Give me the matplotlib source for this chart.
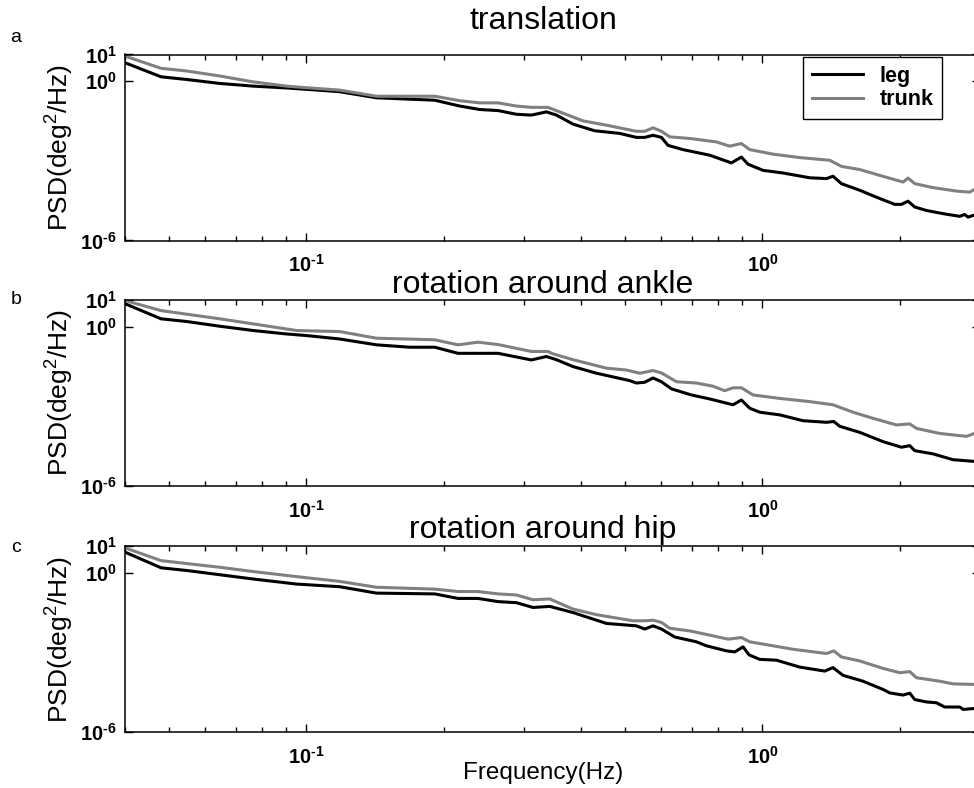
import numpy as np
import matplotlib
matplotlib.use('Agg')
import matplotlib.pyplot as plt
from matplotlib.ticker import LogLocator, NullFormatter, NullLocator

plt.rcParams['font.family'] = 'Liberation Sans'
plt.rcParams['mathtext.fontset'] = 'custom'
plt.rcParams['mathtext.rm'] = 'Liberation Sans:bold'
plt.rcParams['mathtext.bf'] = 'Liberation Sans:bold'
plt.rcParams['mathtext.it'] = 'Liberation Sans:italic'

# values, PSD given as log10
titles = ['translation', 'rotation around ankle', 'rotation around hip']
letters = ['a', 'b', 'c']

f_leg_a = [0.040, 0.048, 0.0546, 0.0646, 0.0764, 0.0904, 0.100, 0.1183, 0.1424, 0.1911,
           0.2169, 0.2399, 0.2632, 0.2887, 0.3114, 0.3359, 0.3534, 0.3842, 0.4286, 0.4865,
           0.5292, 0.5518, 0.5755, 0.6005, 0.6209, 0.6696, 0.7663, 0.8550, 0.8992, 0.9299,
           1.003, 1.110, 1.270, 1.382, 1.428, 1.490, 1.635, 1.778, 1.950, 2.018,
           2.086, 2.158, 2.289, 2.489, 2.708, 2.777, 2.824, 2.896]
leg_a = [0.69, 0.16, 0.06, -0.09, -0.19, -0.26, -0.31, -0.40, -0.63, -0.72,
         -0.94, -1.07, -1.11, -1.25, -1.28, -1.16, -1.28, -1.62, -1.87, -1.97,
         -2.12, -2.12, -2.04, -2.12, -2.42, -2.58, -2.79, -3.08, -2.86, -3.13,
         -3.36, -3.46, -3.64, -3.67, -3.58, -3.86, -4.11, -4.37, -4.64, -4.64,
         -4.52, -4.74, -4.87, -4.99, -5.09, -5.02, -5.12, -5.06]

f_trunk_a = [0.040, 0.048, 0.0546, 0.0646, 0.0764, 0.0904, 0.100, 0.1183, 0.1424, 0.1911,
             0.2169, 0.2399, 0.2632, 0.2887, 0.3114, 0.3386, 0.3593, 0.4043, 0.4549, 0.5292,
             0.5518, 0.5755, 0.6005, 0.6262, 0.6928, 0.7926, 0.8477, 0.8992, 0.9379, 1.055,
             1.207, 1.405, 1.490, 1.635, 1.808, 2.034, 2.086, 2.158, 2.366, 2.663,
             2.848, 2.896]
trunk_a = [0.94, 0.48, 0.38, 0.19, -0.03, -0.19, -0.25, -0.34, -0.57, -0.57,
           -0.74, -0.82, -0.82, -0.94, -0.99, -0.99, -1.16, -1.50, -1.66, -1.89,
           -1.89, -1.76, -1.89, -2.10, -2.16, -2.29, -2.45, -2.35, -2.58, -2.75,
           -2.88, -2.98, -3.21, -3.33, -3.55, -3.80, -3.65, -3.86, -4.01, -4.14,
           -4.18, -4.11]

f_leg_b = [0.040, 0.048, 0.0546, 0.0646, 0.0764, 0.0904, 0.100, 0.1183, 0.1424, 0.1685,
           0.1911, 0.2150, 0.2632, 0.3114, 0.3359, 0.3534, 0.3842, 0.4325, 0.5117, 0.5292,
           0.5518, 0.5755, 0.6005, 0.6316, 0.6987, 0.7663, 0.8620, 0.8992, 0.9379, 0.9865,
           1.091, 1.227, 1.382, 1.434, 1.477, 1.635, 1.839, 2.018, 2.104, 2.158,
           2.366, 2.618, 2.896]
leg_b = [0.86, 0.29, 0.19, 0.01, -0.15, -0.28, -0.34, -0.47, -0.69, -0.78,
         -0.78, -1.01, -1.01, -1.26, -1.13, -1.25, -1.51, -1.76, -2.04, -2.13,
         -2.10, -1.94, -2.08, -2.35, -2.58, -2.73, -2.95, -2.77, -3.08, -3.23,
         -3.33, -3.55, -3.61, -3.58, -3.76, -3.99, -4.34, -4.55, -4.49, -4.68,
         -4.80, -5.02, -5.08]

f_trunk_b = [0.040, 0.048, 0.0646, 0.0764, 0.0951, 0.1183, 0.1424, 0.1911, 0.2150, 0.2377,
             0.2632, 0.3114, 0.3386, 0.3473, 0.3842, 0.4549, 0.5031, 0.5381, 0.5755, 0.6005,
             0.6477, 0.7166, 0.7792, 0.8265, 0.8620, 0.8992, 0.9537, 1.091, 1.270, 1.428,
             1.580, 1.748, 1.967, 2.104, 2.177, 2.448, 2.802, 2.896]
trunk_b = [0.98, 0.60, 0.29, 0.10, -0.15, -0.19, -0.44, -0.50, -0.69, -0.59,
           -0.68, -0.94, -0.94, -1.03, -1.25, -1.57, -1.64, -1.76, -1.66, -1.75,
           -2.08, -2.13, -2.25, -2.42, -2.31, -2.31, -2.58, -2.71, -2.83, -2.95,
           -3.23, -3.46, -3.71, -3.67, -3.84, -4.03, -4.14, -4.05]

f_leg_c = [0.040, 0.048, 0.0546, 0.0646, 0.0764, 0.0951, 0.1183, 0.1424, 0.1911, 0.2150,
           0.2377, 0.2632, 0.2887, 0.3139, 0.3416, 0.3842, 0.4549, 0.5292, 0.5518, 0.5755,
           0.6005, 0.6422, 0.7166, 0.7536, 0.8337, 0.8695, 0.9067, 0.9346, 0.9865, 1.073,
           1.207, 1.370, 1.428, 1.502, 1.662, 1.839, 1.902, 2.034, 2.104, 2.158,
           2.289, 2.407, 2.510, 2.708, 2.754, 2.896]
leg_c = [0.77, 0.18, 0.08, -0.08, -0.24, -0.43, -0.53, -0.77, -0.80, -0.97,
         -0.97, -1.09, -1.13, -1.31, -1.27, -1.50, -1.91, -2.00, -2.12, -2.00,
         -2.12, -2.42, -2.60, -2.75, -2.94, -2.98, -2.79, -3.09, -3.26, -3.29,
         -3.55, -3.70, -3.57, -3.86, -4.08, -4.39, -4.52, -4.60, -4.53, -4.77,
         -4.86, -4.89, -5.05, -5.05, -5.14, -5.11]

f_trunk_c = [0.040, 0.048, 0.0646, 0.0764, 0.0951, 0.1183, 0.1424, 0.1911, 0.2150, 0.2377,
             0.2632, 0.2887, 0.3139, 0.3416, 0.3842, 0.4325, 0.5202, 0.5518, 0.5755, 0.6005,
             0.6262, 0.6928, 0.7663, 0.8404, 0.8992, 0.9379, 1.055, 1.167, 1.382, 1.434,
             1.490, 1.635, 1.839, 2.000, 2.104, 2.177, 2.448, 2.618, 2.896]
trunk_c = [0.93, 0.45, 0.20, 0.04, -0.15, -0.33, -0.55, -0.62, -0.71, -0.71,
           -0.80, -0.84, -1.02, -0.99, -1.37, -1.58, -1.81, -1.81, -1.79, -1.87,
           -2.09, -2.19, -2.35, -2.50, -2.44, -2.60, -2.75, -2.88, -3.04, -2.94,
           -3.17, -3.32, -3.60, -3.76, -3.72, -3.95, -4.08, -4.18, -4.20]

legs = [(f_leg_a, leg_a), (f_leg_b, leg_b), (f_leg_c, leg_c)]
trunks = [(f_trunk_a, trunk_a), (f_trunk_b, trunk_b), (f_trunk_c, trunk_c)]

W, H = 974, 788
fig = plt.figure(figsize=(W / 100, H / 100), dpi=100)

# axes boxes in pixels: top, bottom
boxes = [(54.5, 240.5), (300, 485.7), (546, 732.3)]
title_y = [21, 285, 530]
letter_y = [37, 300, 548]
left_px, right_px = 125, 980


def pow_label(exp):
    # hyphen instead of the math minus, like the original figure
    return r'$\mathbf{10}^{\text{%s}}$' % exp


for i in range(3):
    top, bot = boxes[i]
    ax = fig.add_axes([left_px / W, 1 - bot / H, (right_px - left_px) / W, (bot - top) / H])
    fl, vl = legs[i]
    ft, vt = trunks[i]
    ax.loglog(fl, 10 ** np.array(vl), color='black', lw=2.2, label='leg')
    ax.loglog(ft, 10 ** np.array(vt), color='#808080', lw=2.2, label='trunk')
    ax.set_xlim(0.04, 3)
    ax.set_ylim(1e-6, 1e1)

    ax.set_xticks([0.1, 1])
    ax.set_xticklabels([pow_label('-1'), pow_label('0')])
    ax.xaxis.set_minor_locator(LogLocator(base=10, subs=np.arange(2, 10)))
    ax.xaxis.set_minor_formatter(NullFormatter())
    ax.set_yticks([1e-6, 1, 10])
    ax.set_yticklabels([pow_label('-6'), pow_label('0'), pow_label('1')])
    ax.yaxis.set_minor_locator(NullLocator())
    ax.tick_params(which='both', direction='in', top=True, right=True, labelsize=14.5, width=1)
    ax.tick_params(which='major', length=6)
    ax.tick_params(axis='x', which='major', pad=10)
    ax.tick_params(axis='y', which='major', pad=6)
    ax.tick_params(which='minor', length=3.5)
    for s in ax.spines.values():
        s.set_linewidth(1.1)

    fig.text(543 / W, 1 - title_y[i] / H, titles[i], ha='center', va='center', fontsize=23)
    fig.text(16 / W, 1 - letter_y[i] / H, letters[i], ha='center', va='center', fontsize=14)
    fig.text(60 / W, 1 - (top + bot) / 2 / H, r'PSD(deg$^\mathregular{2}$/Hz)', rotation=90,
             ha='center', va='center', fontsize=19)

    if i == 0:
        leg = ax.legend(loc='upper right', bbox_to_anchor=(942 / W, 1 - 57 / H),
                        bbox_transform=fig.transFigure, borderaxespad=0, fancybox=False,
                        edgecolor='black', framealpha=1, handlelength=2.4, handletextpad=0.75,
                        labelspacing=0.12, borderpad=0.4, prop={'weight': 'bold', 'size': 15.5})
        leg.get_frame().set_linewidth(1)

fig.text(543 / W, 1 - 773 / H, 'Frequency(Hz)', ha='center', va='center', fontsize=17.5)

fig.savefig('out.png', dpi=100)
